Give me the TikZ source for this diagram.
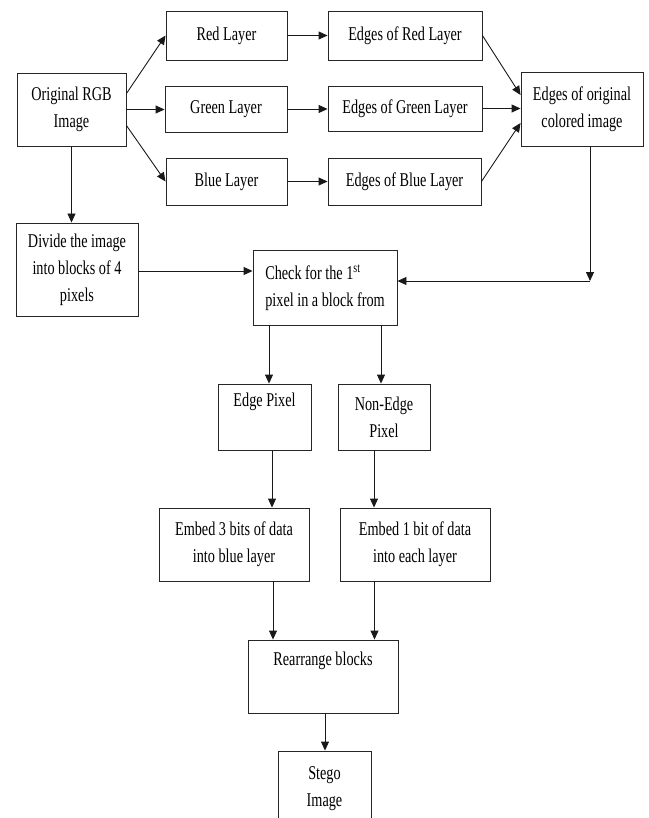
\documentclass[tikz,border=0pt]{standalone}
\usepackage{fontspec}
\setmainfont{Liberation Serif}[FakeStretch=0.73]
\usetikzlibrary{arrows.meta}
\tikzset{
  blk/.style={draw=black!85, line width=0.9pt, inner sep=0pt, align=center,
    font=\fontsize{19.5}{27}\selectfont},
  arr/.style={draw=black!90, line width=0.9pt, -{Triangle[length=9pt,width=8pt]}},
  ln/.style={draw=black!90, line width=0.9pt}
}
\newcommand{\bx}[6]{\node[blk, minimum width=#4pt, minimum height=#5pt] (#1) at (#2,#3) {#6};}
\begin{document}
\begin{tikzpicture}[x=1pt,y=-1pt]
\useasboundingbox (0,0) rectangle (648,818);
\clip (0,0) rectangle (648,818);
\bx{orig}{71.5}{109.5}{109}{73}{Original RGB\\Image}
\bx{red}{226.5}{35.5}{121}{49}{Red Layer}
\bx{green}{226}{109}{122}{46}{Green Layer}
\bx{blue}{226.5}{181.5}{121}{47}{Blue Layer}
\bx{ered}{405}{35.5}{154}{49}{Edges of Red Layer}
\bx{egreen}{405}{108.5}{154}{45}{Edges of Green Layer}
\bx{eblue}{404.5}{181.5}{153}{47}{Edges of Blue Layer}
\bx{eorig}{582}{109}{122}{74}{Edges of original\\colored image}
\bx{divide}{77}{269.5}{122}{93}{Divide the image\\into blocks of 4\\pixels}
\node[blk, align=left, minimum width=144pt, minimum height=75pt] (check) at (325,287.5) {Check for the 1\textsuperscript{st}\\pixel in a block\ from};
\bx{edge}{264.5}{417}{93}{66}{Edge Pixel\\\strut}
\bx{nonedge}{384}{417}{92}{66}{Non-Edge\\Pixel}
\bx{embthree}{234}{544.5}{150}{73}{Embed 3 bits of data\\into blue layer}
\bx{embone}{415}{544.5}{150}{73}{Embed 1 bit of data\\into each layer}
\bx{rearr}{323}{676.5}{150}{73}{Rearrange blocks\\\strut}
\bx{stego}{324.5}{788.5}{93}{75}{Stego\\Image}
% top arrows
\draw[arr] ([yshift=16pt]orig.east) -- (red.west);
\draw[arr] (orig.east) -- (orig.east -| green.west);
\draw[arr] ([yshift=-16pt]orig.east) -- (blue.west);
\draw[arr] (red.east) -- (red.east -| ered.west);
\draw[arr] (green.east) -- (green.east -| egreen.west);
\draw[arr] (blue.east) -- (blue.east -| eblue.west);
\draw[arr] (ered.east) -- ([yshift=14pt]eorig.west);
\draw[arr] (egreen.east) -- (egreen.east -| eorig.west);
\draw[arr] (eblue.east) -- ([yshift=-14pt]eorig.west);
% feedback
\coordinate (corner) at (590,281);
\draw[arr] ([xshift=8pt]eorig.south) -- (corner);
\draw[arr] (corner) -- (corner -| check.east);
\draw[arr] (orig.south) -- (orig.south |- divide.north);
\draw[arr] ([yshift=-1.5pt]divide.east) -- ([yshift=-1.5pt]divide.east -| check.west);
% lower chain
\draw[arr] ([xshift=-56pt]check.south) -- ([xshift=-56pt]check.south |- edge.north);
\draw[arr] ([xshift=56pt]check.south) -- ([xshift=56pt]check.south |- nonedge.north);
\draw[arr] ([xshift=7.5pt]edge.south) -- ([xshift=7.5pt]edge.south |- embthree.north);
\draw[arr] ([xshift=-10pt]nonedge.south) -- ([xshift=-10pt]nonedge.south |- embone.north);
\draw[arr] ([xshift=39pt]embthree.south) -- ([xshift=39pt]embthree.south |- rearr.north);
\draw[arr] ([xshift=-40.5pt]embone.south) -- ([xshift=-40.5pt]embone.south |- rearr.north);
\draw[arr] ([xshift=2pt]rearr.south) -- ([xshift=2pt]rearr.south |- stego.north);
\end{tikzpicture}
\end{document}
